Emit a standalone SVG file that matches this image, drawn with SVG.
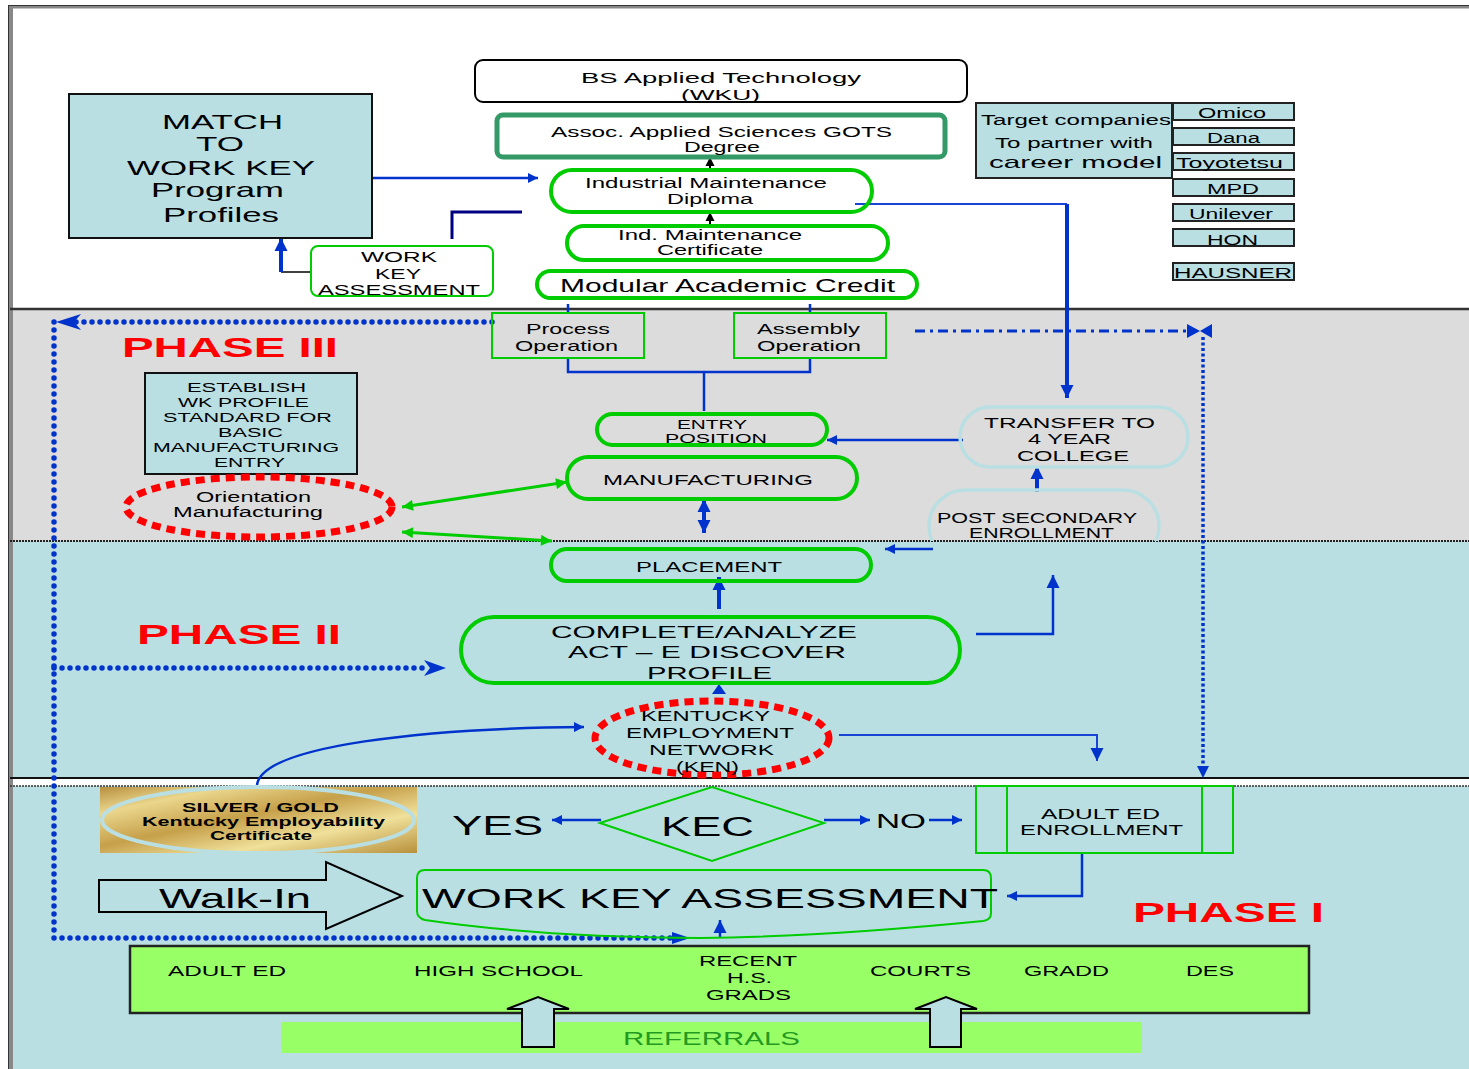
<svg xmlns="http://www.w3.org/2000/svg" width="1469" height="1069" viewBox="0 0 1469 1069">
<defs>
<style>
text{font-family:"Liberation Sans",Arial,Helvetica,sans-serif;fill:#000;}
.s13{font-size:13px}.s14{font-size:14px}.s15{font-size:15px}.s17{font-size:17px}.s18{font-size:18px}.s21{font-size:21px}.s27{font-size:27px}.s28{font-size:28px}
.b{font-weight:bold}
.phase{font-weight:bold;fill:#ff0000;font-size:28px}
.box{fill:#b9dfe3;stroke:#111;stroke-width:2}
.cbox{fill:#b9dfe3;stroke:#222;stroke-width:2}
.stad{fill:none;stroke:#00cc00;stroke-width:4}
.lb{fill:none;stroke:#b9dfe3;stroke-width:3.5}
.red{fill:none;stroke:#ff0000;stroke-width:7;stroke-dasharray:9 6}
.c{fill:none;stroke:#0033cc;stroke-width:2.5}
.c4{fill:none;stroke:#0033cc;stroke-width:4}
.dots{fill:none;stroke:#0033cc;stroke-width:5.5;stroke-linecap:round;stroke-dasharray:0 8}
.blk{fill:#b9dfe3;stroke:#000;stroke-width:2}
</style>
<marker id="ab" viewBox="0 0 10 10" refX="10" refY="5" markerWidth="14" markerHeight="10" markerUnits="userSpaceOnUse" orient="auto-start-reverse"><path d="M0,0L10,5L0,10z" fill="#0033cc"/></marker>
<marker id="abL" viewBox="0 0 10 10" refX="10" refY="5" markerWidth="13" markerHeight="16" markerUnits="userSpaceOnUse" orient="auto-start-reverse"><path d="M0,0L10,5L0,10z" fill="#0033cc"/></marker>
<marker id="abk" viewBox="0 0 10 10" refX="10" refY="5" markerWidth="9" markerHeight="12" markerUnits="userSpaceOnUse" orient="auto"><path d="M0,0L10,5L0,10z" fill="#000"/></marker>
<marker id="ag" viewBox="0 0 10 10" refX="10" refY="5" markerWidth="16" markerHeight="11" markerUnits="userSpaceOnUse" orient="auto-start-reverse"><path d="M0,0L10,5L0,10z" fill="#00cc00"/></marker>
<linearGradient id="gold" x1="0" y1="0" x2="1" y2="1">
<stop offset="0" stop-color="#b89040"/>
<stop offset="0.2" stop-color="#ead68c"/>
<stop offset="0.45" stop-color="#c6a04a"/>
<stop offset="0.7" stop-color="#f0e09a"/>
<stop offset="1" stop-color="#b8913c"/>
</linearGradient>
<clipPath id="clip3"><rect x="0" y="300" width="1469" height="241"/></clipPath>
</defs>

<g id="background">
<rect x="0" y="0" width="1469" height="1069" fill="#fff"/>
<rect x="10" y="309" width="1459" height="232" fill="#dcdcdc"/>
<rect x="10" y="541" width="1459" height="237" fill="#b9dfe3"/>
<rect x="10" y="786" width="1459" height="283" fill="#b9dfe3"/>
<line x1="8" y1="7" x2="1469" y2="7" stroke="#888" stroke-width="3"/>
<line x1="8" y1="5.5" x2="1469" y2="5.5" stroke="#333" stroke-width="1"/>
<line x1="11" y1="6" x2="11" y2="1069" stroke="#888" stroke-width="4"/>
<line x1="8.5" y1="6" x2="8.5" y2="1069" stroke="#333" stroke-width="1"/>
<line x1="10" y1="309" x2="1469" y2="309" stroke="#333" stroke-width="2.5"/>
<line x1="10" y1="541" x2="1469" y2="541" stroke="#222" stroke-width="2" stroke-dasharray="2 1"/>
<line x1="10" y1="778" x2="1469" y2="778" stroke="#111" stroke-width="2"/>
<line x1="10" y1="786" x2="1469" y2="786" stroke="#333" stroke-width="1.5" stroke-dasharray="2 1"/>
</g>

<g id="connectors">
<path class="c" d="M372,178 H538" marker-end="url(#ab)"/>
<path d="M452,239 V212 H522" fill="none" stroke="#000080" stroke-width="3"/>
<path d="M312,272 H281" fill="none" stroke="#000" stroke-width="1.5"/>
<path class="c4" d="M281,272 V238" marker-end="url(#abL)"/>
<path d="M710,170 V157" stroke="#000" stroke-width="2" marker-end="url(#abk)"/>
<path d="M710,226 V212" stroke="#000" stroke-width="2" marker-end="url(#abk)"/>
<path d="M855,204 H1067" fill="none" stroke="#1a44d6" stroke-width="2"/>
<path class="c4" d="M1067,204 V398" marker-end="url(#abL)"/>
<path class="c" d="M568,304 V313 M810,304 V313 M568,358 V372 H810 V358 M704,372 V411"/>
<path class="dots" d="M54,322 V938"/>
<path class="dots" d="M492,322 H62"/>
<polygon points="56,322 81,314 74,322 81,330" fill="#0033cc"/>
<path class="dots" d="M54,668 H430"/>
<polygon points="446,668 424,660 430,668 424,676" fill="#0033cc"/>
<path class="dots" d="M54,938 H676"/>
<polygon points="690,938 672,932 672,944" fill="#0033cc"/>
<path d="M915,331 H1188" fill="none" stroke="#0033cc" stroke-width="3" stroke-dasharray="10 5 3 5"/>
<polygon points="1187,324 1200,331 1187,338" fill="#0033cc"/>
<polygon points="1212,324 1200,331 1212,338" fill="#0033cc"/>
<path d="M1203,337 V766" fill="none" stroke="#0033cc" stroke-width="3.5" stroke-dasharray="3 2.5"/>
<polygon points="1203,778 1197,766 1209,766" fill="#0033cc"/>
<path class="c" d="M963,440 H827" marker-end="url(#ab)"/>
<path class="c4" d="M1037,492 V466" marker-end="url(#abL)"/>
<path d="M402,507 L567,482" fill="none" stroke="#00cc00" stroke-width="3" marker-start="url(#ag)" marker-end="url(#ag)"/>
<path d="M402,532 L552,541" fill="none" stroke="#00cc00" stroke-width="3" marker-start="url(#ag)" marker-end="url(#ag)"/>
<path class="c4" d="M704,499 V533" marker-start="url(#abL)" marker-end="url(#abL)"/>
<path class="c" d="M933,549 H885" marker-end="url(#ab)"/>
<path class="c4" d="M719,609 V577" marker-end="url(#abL)"/>
<path class="c" d="M976,634 H1053 V575" marker-end="url(#abL)"/>
<polygon points="719,684 712,694 726,694" fill="#0033cc"/>
<path d="M839,735 H1097 V761" fill="none" stroke="#1a44d6" stroke-width="2" marker-end="url(#abL)"/>
<path class="c" d="M257,785 C262,745 430,728 584,727" marker-end="url(#ab)"/>
<path class="c" d="M601,820 H552" marker-end="url(#ab)"/>
<path class="c" d="M824,820 H870" marker-end="url(#ab)"/>
<path class="c" d="M929,820 H962" marker-end="url(#ab)"/>
<path class="c" d="M1082,853 V896 H1007" marker-end="url(#ab)"/>
<path class="c" d="M720,938 V920" marker-end="url(#abL)"/>
</g>

<g id="match-box">
<rect class="box" x="69" y="94" width="303" height="144"/>
<text class="s21" x="162" y="129" textLength="121" lengthAdjust="spacingAndGlyphs">MATCH</text>
<text class="s21" x="196" y="151" textLength="48" lengthAdjust="spacingAndGlyphs">TO</text>
<text class="s21" x="127" y="175" textLength="188" lengthAdjust="spacingAndGlyphs">WORK KEY</text>
<text class="s21" x="151" y="197" textLength="133" lengthAdjust="spacingAndGlyphs">Program</text>
<text class="s21" x="163" y="222" textLength="116" lengthAdjust="spacingAndGlyphs">Profiles</text>
</g>

<g id="wk-small">
<rect x="311" y="246" width="182" height="50" rx="7" fill="#fff" stroke="#00cc00" stroke-width="2"/>
<text class="s15" x="361" y="262" textLength="76" lengthAdjust="spacingAndGlyphs">WORK</text>
<text class="s15" x="375" y="279" textLength="46" lengthAdjust="spacingAndGlyphs">KEY</text>
<text class="s15" x="318" y="295" textLength="162" lengthAdjust="spacingAndGlyphs">ASSESSMENT</text>
</g>

<g id="bs">
<rect x="475" y="60" width="492" height="42" rx="8" fill="#fff" stroke="#000" stroke-width="2"/>
<text x="581" y="83" style="font-size:15.5px" textLength="280" lengthAdjust="spacingAndGlyphs">BS Applied Technology</text>
<text x="681" y="100" style="font-size:15.5px" textLength="79" lengthAdjust="spacingAndGlyphs">(WKU)</text>
</g>

<g id="assoc">
<rect x="497" y="115" width="448" height="42" rx="6" fill="#fff" stroke="#339966" stroke-width="5"/>
<text class="s14" x="551" y="137" textLength="341" lengthAdjust="spacingAndGlyphs">Assoc. Applied  Sciences  GOTS</text>
<text class="s14" x="684" y="152" textLength="76" lengthAdjust="spacingAndGlyphs">Degree</text>
</g>

<g id="diploma">
<rect class="stad" x="551" y="170" width="321" height="42" rx="21" fill="#fff"/>
<text class="s14" x="585" y="188" textLength="242" lengthAdjust="spacingAndGlyphs">Industrial  Maintenance</text>
<text class="s14" x="667" y="204" textLength="86" lengthAdjust="spacingAndGlyphs">Diploma</text>
</g>

<g id="certificate">
<rect class="stad" x="567" y="226" width="321" height="34" rx="17"/>
<text class="s14" x="618" y="240" textLength="184" lengthAdjust="spacingAndGlyphs">Ind. Maintenance</text>
<text class="s14" x="657" y="255" textLength="106" lengthAdjust="spacingAndGlyphs">Certificate</text>
</g>

<g id="modular">
<rect class="stad" x="537" y="271" width="380" height="27" rx="13.5"/>
<text x="560" y="292" style="font-size:18.5px" textLength="335" lengthAdjust="spacingAndGlyphs">Modular Academic Credit</text>
</g>

<g id="target">
<rect class="cbox" x="976" y="103" width="196" height="75"/>
<text class="s14" x="981" y="125" textLength="190" lengthAdjust="spacingAndGlyphs">Target  companies</text>
<text class="s14" x="995" y="148" textLength="158" lengthAdjust="spacingAndGlyphs">To partner  with</text>
<text class="s17" x="989" y="168" textLength="173" lengthAdjust="spacingAndGlyphs">career model</text>
</g>
<g id="omico"><rect class="cbox" x="1173" y="103" width="121" height="17"/><text class="s14" x="1198" y="118" textLength="68" lengthAdjust="spacingAndGlyphs">Omico</text></g>
<g id="dana"><rect class="cbox" x="1173" y="128" width="121" height="17"/><text class="s14" x="1207" y="143" textLength="53" lengthAdjust="spacingAndGlyphs">Dana</text></g>
<g id="toyotetsu"><rect class="cbox" x="1173" y="153" width="121" height="17"/><text class="s14" x="1176" y="168" textLength="107" lengthAdjust="spacingAndGlyphs">Toyotetsu</text></g>
<g id="mpd"><rect class="cbox" x="1173" y="179" width="121" height="17"/><text class="s14" x="1207" y="194" textLength="52" lengthAdjust="spacingAndGlyphs">MPD</text></g>
<g id="unilever"><rect class="cbox" x="1173" y="204" width="121" height="17"/><text class="s14" x="1189" y="219" textLength="84" lengthAdjust="spacingAndGlyphs">Unilever</text></g>
<g id="hon"><rect class="cbox" x="1173" y="229" width="121" height="17"/><text class="s14" x="1207" y="245" textLength="51" lengthAdjust="spacingAndGlyphs">HON</text></g>
<g id="hausner"><rect class="cbox" x="1173" y="263" width="121" height="17"/><text class="s14" x="1174" y="278" textLength="118" lengthAdjust="spacingAndGlyphs">HAUSNER</text></g>

<text class="phase" x="122" y="357" textLength="216" lengthAdjust="spacingAndGlyphs">PHASE III</text>

<g id="process">
<rect x="492" y="313" width="152" height="45" fill="none" stroke="#00cc00" stroke-width="2"/>
<text class="s15" x="526" y="334" textLength="84" lengthAdjust="spacingAndGlyphs">Process</text>
<text class="s15" x="515" y="351" textLength="103" lengthAdjust="spacingAndGlyphs">Operation</text>
</g>
<g id="assembly">
<rect x="734" y="313" width="152" height="45" fill="none" stroke="#00cc00" stroke-width="2"/>
<text class="s15" x="757" y="334" textLength="103" lengthAdjust="spacingAndGlyphs">Assembly</text>
<text class="s15" x="757" y="351" textLength="104" lengthAdjust="spacingAndGlyphs">Operation</text>
</g>

<g id="establish">
<rect class="box" x="145" y="373" width="212" height="101"/>
<text x="187" y="392" style="font-size:13.5px" textLength="119" lengthAdjust="spacingAndGlyphs">ESTABLISH</text>
<text x="178" y="407" style="font-size:13.5px" textLength="131" lengthAdjust="spacingAndGlyphs">WK PROFILE</text>
<text x="163" y="422" style="font-size:13.5px" textLength="169" lengthAdjust="spacingAndGlyphs">STANDARD FOR</text>
<text x="218" y="437" style="font-size:13.5px" textLength="65" lengthAdjust="spacingAndGlyphs">BASIC</text>
<text x="153" y="452" style="font-size:13.5px" textLength="186" lengthAdjust="spacingAndGlyphs">MANUFACTURING</text>
<text x="214" y="467" style="font-size:13.5px" textLength="71" lengthAdjust="spacingAndGlyphs">ENTRY</text>
</g>

<g id="orientation">
<ellipse class="red" cx="259" cy="507" rx="133" ry="30"/>
<text x="196" y="502" style="font-size:14px" textLength="115" lengthAdjust="spacingAndGlyphs">Orientation</text>
<text x="173" y="517" style="font-size:14px" textLength="150" lengthAdjust="spacingAndGlyphs">Manufacturing</text>
</g>

<g id="entry">
<rect class="stad" x="597" y="414" width="230" height="31" rx="15.5"/>
<text class="s13" x="677" y="429" textLength="70" lengthAdjust="spacingAndGlyphs">ENTRY</text>
<text class="s13" x="665" y="443" textLength="102" lengthAdjust="spacingAndGlyphs">POSITION</text>
</g>

<g id="manufacturing">
<rect class="stad" x="567" y="457" width="290" height="42" rx="21"/>
<text class="s15" x="603" y="485" textLength="210" lengthAdjust="spacingAndGlyphs">MANUFACTURING</text>
</g>

<g id="transfer">
<rect class="lb" x="960" y="407" width="228" height="60" rx="30"/>
<text class="s15" x="984" y="428" textLength="171" lengthAdjust="spacingAndGlyphs">TRANSFER  TO</text>
<text class="s15" x="1028" y="444" textLength="83" lengthAdjust="spacingAndGlyphs">4 YEAR</text>
<text class="s15" x="1017" y="461" textLength="112" lengthAdjust="spacingAndGlyphs">COLLEGE</text>
</g>

<g id="post-secondary">
<rect class="lb" x="929" y="490" width="230" height="72" rx="36" clip-path="url(#clip3)"/>
<text class="s14" x="937" y="523" textLength="200" lengthAdjust="spacingAndGlyphs">POST SECONDARY</text>
<text class="s14" x="969" y="538" textLength="145" lengthAdjust="spacingAndGlyphs">ENROLLMENT</text>
</g>

<text class="phase" x="137" y="644" textLength="204" lengthAdjust="spacingAndGlyphs">PHASE II</text>

<g id="placement">
<rect class="stad" x="551" y="549" width="320" height="32" rx="16"/>
<text class="s15" x="636" y="572" textLength="146" lengthAdjust="spacingAndGlyphs">PLACEMENT</text>
</g>

<g id="complete">
<rect class="stad" x="461" y="617" width="499" height="66" rx="33"/>
<text class="s17" x="551" y="638" textLength="306" lengthAdjust="spacingAndGlyphs">COMPLETE/ANALYZE</text>
<text class="s17" x="568" y="658" textLength="278" lengthAdjust="spacingAndGlyphs">ACT – E DISCOVER</text>
<text class="s17" x="647" y="679" textLength="125" lengthAdjust="spacingAndGlyphs">PROFILE</text>
</g>

<g id="ken">
<ellipse class="red" cx="712" cy="738" rx="117" ry="37"/>
<text class="s14" x="641" y="721" textLength="129" lengthAdjust="spacingAndGlyphs">KENTUCKY</text>
<text class="s14" x="626" y="738" textLength="168" lengthAdjust="spacingAndGlyphs">EMPLOYMENT</text>
<text class="s14" x="649" y="755" textLength="125" lengthAdjust="spacingAndGlyphs">NETWORK</text>
<text class="s14" x="676" y="772" textLength="63" lengthAdjust="spacingAndGlyphs">(KEN)</text>
</g>

<g id="certificate-gold">
<rect x="100" y="787" width="317" height="66" fill="url(#gold)"/>
<ellipse cx="258" cy="820" rx="156" ry="33" fill="none" stroke="#b9dfe3" stroke-width="4"/>
<text class="b" x="182" y="812" style="font-size:13px" textLength="157" lengthAdjust="spacingAndGlyphs">SILVER / GOLD</text>
<text class="b" x="142" y="826" style="font-size:13px" textLength="243" lengthAdjust="spacingAndGlyphs">Kentucky  Employability</text>
<text class="b" x="210" y="840" style="font-size:13px" textLength="102" lengthAdjust="spacingAndGlyphs">Certificate</text>
</g>

<text class="s27" x="452" y="835" textLength="91" lengthAdjust="spacingAndGlyphs">YES</text>

<g id="kec">
<polygon points="600,823 712,787 824,823 712,861" fill="none" stroke="#00cc00" stroke-width="2"/>
<text class="s27" x="661" y="836" textLength="93" lengthAdjust="spacingAndGlyphs">KEC</text>
</g>

<text class="s21" x="876" y="828" textLength="50" lengthAdjust="spacingAndGlyphs">NO</text>

<g id="adult-ed-enrollment">
<rect x="976" y="786" width="257" height="67" fill="none" stroke="#00cc00" stroke-width="2"/>
<line x1="1007" y1="786" x2="1007" y2="853" stroke="#00cc00" stroke-width="2"/>
<line x1="1202" y1="786" x2="1202" y2="853" stroke="#00cc00" stroke-width="2"/>
<text class="s15" x="1041" y="819" textLength="119" lengthAdjust="spacingAndGlyphs">ADULT ED</text>
<text class="s15" x="1020" y="835" textLength="163" lengthAdjust="spacingAndGlyphs">ENROLLMENT</text>
</g>

<g id="walk-in">
<polygon points="99,880 326,880 326,862 402,896 326,929 326,912 99,912" fill="none" stroke="#000" stroke-width="2"/>
<text class="s28" x="159" y="908" textLength="152" lengthAdjust="spacingAndGlyphs">Walk-In</text>
</g>

<g id="work-key-assessment">
<path d="M425,870 H983 Q991,870 991,878 V913 Q991,920 983,921 Q820,937 700,938 Q540,937 425,920 Q417,918 417,911 V878 Q417,870 425,870 Z" fill="none" stroke="#00cc00" stroke-width="2"/>
<text class="s28" x="422" y="908" textLength="576" lengthAdjust="spacingAndGlyphs">WORK KEY ASSESSMENT</text>
</g>

<text class="phase" x="1133" y="922" style="font-size:27px" textLength="191" lengthAdjust="spacingAndGlyphs">PHASE I</text>

<g id="sources">
<rect x="130" y="946" width="1179" height="67" fill="#99ff66" stroke="#222" stroke-width="2.5"/>
<text class="s15" x="168" y="976" textLength="118" lengthAdjust="spacingAndGlyphs">ADULT ED</text>
<text class="s15" x="414" y="976" textLength="169" lengthAdjust="spacingAndGlyphs">HIGH SCHOOL</text>
<text class="s15" x="699" y="966" textLength="98" lengthAdjust="spacingAndGlyphs">RECENT</text>
<text class="s15" x="727" y="983" textLength="45" lengthAdjust="spacingAndGlyphs">H.S.</text>
<text class="s15" x="706" y="1000" textLength="85" lengthAdjust="spacingAndGlyphs">GRADS</text>
<text class="s15" x="870" y="976" textLength="101" lengthAdjust="spacingAndGlyphs">COURTS</text>
<text class="s15" x="1024" y="976" textLength="85" lengthAdjust="spacingAndGlyphs">GRADD</text>
<text class="s15" x="1186" y="976" textLength="48" lengthAdjust="spacingAndGlyphs">DES</text>
</g>

<g id="referrals">
<rect x="281" y="1022" width="861" height="31" fill="#99ff66"/>
<text class="s18" x="623" y="1045" style="fill:#229a22" textLength="177" lengthAdjust="spacingAndGlyphs">REFERRALS</text>
<polygon class="blk" points="522,1047 522,1009 507,1009 538,997 569,1009 554,1009 554,1047"/>
<polygon class="blk" points="930,1047 930,1009 915,1009 946,997 977,1009 961,1009 961,1047"/>
</g>
</svg>
